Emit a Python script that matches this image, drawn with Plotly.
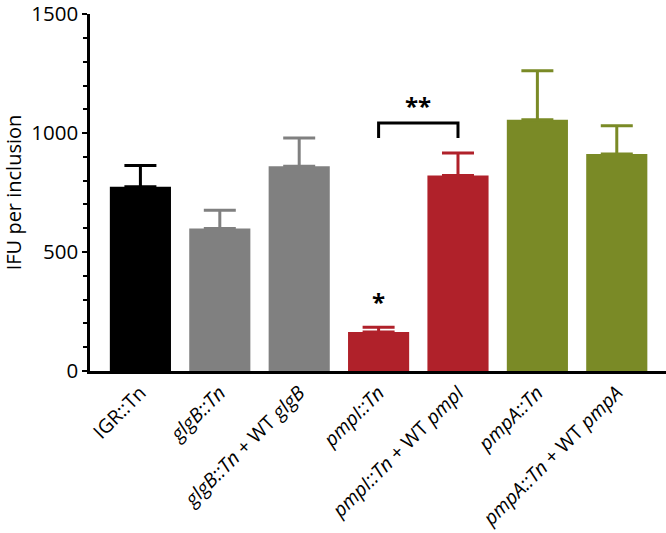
import plotly.graph_objects as go

categories = [
    "IGR::Tn",
    "<i>glgB::Tn</i>",
    "<i>glgB::Tn</i> + WT <i>glgB</i>",
    "<i>pmpI::Tn</i>",
    "<i>pmpI::Tn</i> + WT <i>pmpI</i>",
    "<i>pmpA::Tn</i>",
    "<i>pmpA::Tn</i> + WT <i>pmpA</i>",
]
means = [774, 599, 861, 164, 822, 1056, 912]
errors = [90, 77, 118, 20, 94, 206, 119]
colors = ["#000000", "#808080", "#808080", "#b0212a", "#b0212a", "#7a8a26", "#7a8a26"]

bracket_y_low = 979
bracket_y_high = 1042
single_star_y = 292
double_star_y = 1115

FONT = "Open Sans, Noto Sans, sans-serif"

fig = go.Figure()
for cat, m, e, c in zip(categories, means, errors, colors):
    fig.add_trace(go.Bar(
        x=[cat], y=[m], marker=dict(color=c, line=dict(width=0)),
        width=0.77,
        error_y=dict(type="data", array=[e], arrayminus=[0], symmetric=False,
                     color=c, thickness=3, width=16),
        showlegend=False,
    ))

fig.add_trace(go.Scatter(
    x=[categories[3], categories[3], categories[4], categories[4]],
    y=[bracket_y_low, bracket_y_high, bracket_y_high, bracket_y_low],
    mode="lines", line=dict(color="black", width=3), showlegend=False,
    hoverinfo="skip",
))

fig.add_annotation(x=categories[3], y=single_star_y, text="<b>*</b>", showarrow=False,
                   font=dict(size=24, color="black", family=FONT))
fig.add_annotation(x=(3 + 4) / 2, y=double_star_y, text="<b>**</b>", showarrow=False,
                   font=dict(size=24, color="black", family=FONT))

fig.update_layout(
    width=666, height=533,
    margin=dict(l=90, r=0, t=14, b=162, autoexpand=False),
    paper_bgcolor="white", plot_bgcolor="white",
    barmode="overlay",
    font=dict(family=FONT, size=18, color="black"),
)
fig.update_xaxes(
    type="category", categoryorder="array", categoryarray=categories,
    range=[-0.635, 6.62], automargin=False,
    showline=True, linecolor="black", linewidth=2.5,
    ticks="", tickangle=-45, showgrid=False, zeroline=False,
    tickfont=dict(size=19.5, family=FONT),
)
fig.update_yaxes(
    range=[0, 1500.5], tickvals=[0, 500, 1000, 1500], automargin=False,
    ticklabeloverflow="allow",
    showline=True, linecolor="black", linewidth=2.5,
    ticks="outside", ticklen=5, tickwidth=2, tickcolor="black",
    minor=dict(dtick=100, ticks="outside", ticklen=4, tickwidth=2, tickcolor="black", showgrid=False),
    showgrid=False, zeroline=False,
    tickfont=dict(size=20.5, family=FONT),
    title=dict(text="IFU per inclusion", font=dict(size=20, family=FONT), standoff=14),
)

fig.write_html(
    "out.html",
    config={"displayModeBar": False},
    post_script="document.body.style.margin='0';document.body.style.overflow='hidden';",
)
